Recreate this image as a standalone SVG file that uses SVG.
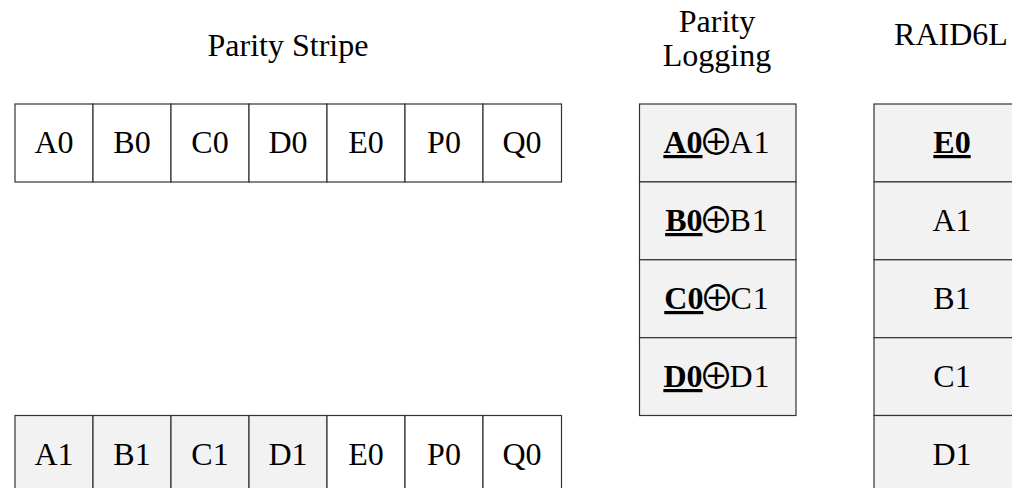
<svg xmlns="http://www.w3.org/2000/svg" width="1012" height="488" viewBox="0 0 1012 488">
  <style>
    .cell { stroke: #333; stroke-width: 1.2; }
    .white { fill: #ffffff; }
    .grey { fill: #f2f2f2; }
    text { font-family: "Liberation Serif", "Times New Roman", serif; font-size: 32px; fill: #000; text-anchor: middle; }
    .key { font-weight: bold; text-decoration: underline; }
    .xor { font-family: "Noto Sans CJK JP", "DejaVu Sans", sans-serif; font-size: 35px; }
  </style>

  <!-- column headings -->
  <g id="titles">
    <text x="288" y="56">Parity Stripe</text>
    <text x="717" y="32">Parity</text>
    <text x="717" y="66">Logging</text>
    <text x="951" y="45">RAID6L</text>
  </g>

  <!-- top stripe: original data + parity -->
  <g id="stripe0">
    <g id="s0-a"><rect class="cell white" x="15" y="104" width="78" height="78"/><text x="54" y="153">A0</text></g>
    <g id="s0-b"><rect class="cell white" x="93" y="104" width="78" height="78"/><text x="132" y="153">B0</text></g>
    <g id="s0-c"><rect class="cell white" x="171" y="104" width="78" height="78"/><text x="210" y="153">C0</text></g>
    <g id="s0-d"><rect class="cell white" x="249" y="104" width="78" height="78"/><text x="288" y="153">D0</text></g>
    <g id="s0-e"><rect class="cell white" x="327" y="104" width="78" height="78"/><text x="366" y="153">E0</text></g>
    <g id="s0-p"><rect class="cell white" x="405" y="104" width="78" height="78"/><text x="444" y="153">P0</text></g>
    <g id="s0-q"><rect class="cell white" x="483" y="104" width="78.5" height="78"/><text x="522" y="153">Q0</text></g>
  </g>

  <!-- bottom stripe: updated data with stale parity -->
  <g id="stripe1">
    <g id="s1-a"><rect class="cell grey" x="15" y="415.5" width="78" height="78"/><text x="54" y="464.5">A1</text></g>
    <g id="s1-b"><rect class="cell grey" x="93" y="415.5" width="78" height="78"/><text x="132" y="464.5">B1</text></g>
    <g id="s1-c"><rect class="cell grey" x="171" y="415.5" width="78" height="78"/><text x="210" y="464.5">C1</text></g>
    <g id="s1-d"><rect class="cell grey" x="249" y="415.5" width="78" height="78"/><text x="288" y="464.5">D1</text></g>
    <g id="s1-e"><rect class="cell white" x="327" y="415.5" width="78" height="78"/><text x="366" y="464.5">E0</text></g>
    <g id="s1-p"><rect class="cell white" x="405" y="415.5" width="78" height="78"/><text x="444" y="464.5">P0</text></g>
    <g id="s1-q"><rect class="cell white" x="483" y="415.5" width="78.5" height="78"/><text x="522" y="464.5">Q0</text></g>
  </g>

  <!-- parity log entries: old data XOR new data -->
  <g id="parity-log">
    <g id="log-a"><rect class="cell grey" x="639.5" y="104" width="156.5" height="77.9"/>
      <text x="717" y="153"><tspan class="key">A0</tspan><tspan class="xor" dx="-4" dy="2">⊕</tspan><tspan dx="-4" dy="-2" letter-spacing="1">A1</tspan></text></g>
    <g id="log-b"><rect class="cell grey" x="639.5" y="181.9" width="156.5" height="77.9"/>
      <text x="717" y="231"><tspan class="key">B0</tspan><tspan class="xor" dx="-4" dy="2">⊕</tspan><tspan dx="-4" dy="-2" letter-spacing="1">B1</tspan></text></g>
    <g id="log-c"><rect class="cell grey" x="639.5" y="259.8" width="156.5" height="77.9"/>
      <text x="717" y="309"><tspan class="key">C0</tspan><tspan class="xor" dx="-4" dy="2">⊕</tspan><tspan dx="-4" dy="-2" letter-spacing="1">C1</tspan></text></g>
    <g id="log-d"><rect class="cell grey" x="639.5" y="337.7" width="156.5" height="77.8"/>
      <text x="717" y="387"><tspan class="key">D0</tspan><tspan class="xor" dx="-4" dy="2">⊕</tspan><tspan dx="-4" dy="-2" letter-spacing="1">D1</tspan></text></g>
  </g>

  <!-- RAID6L log column -->
  <g id="raid6l">
    <g id="r6-e"><rect class="cell grey" x="874" y="104" width="157" height="77.9"/><text x="952" y="153" class="key">E0</text></g>
    <g id="r6-a"><rect class="cell grey" x="874" y="181.9" width="157" height="77.9"/><text x="952" y="231">A1</text></g>
    <g id="r6-b"><rect class="cell grey" x="874" y="259.8" width="157" height="77.9"/><text x="952" y="309">B1</text></g>
    <g id="r6-c"><rect class="cell grey" x="874" y="337.7" width="157" height="77.8"/><text x="952" y="387">C1</text></g>
    <g id="r6-d"><rect class="cell grey" x="874" y="415.5" width="157" height="78"/><text x="952" y="464.5">D1</text></g>
  </g>

  <g id="connectors"/>
</svg>
